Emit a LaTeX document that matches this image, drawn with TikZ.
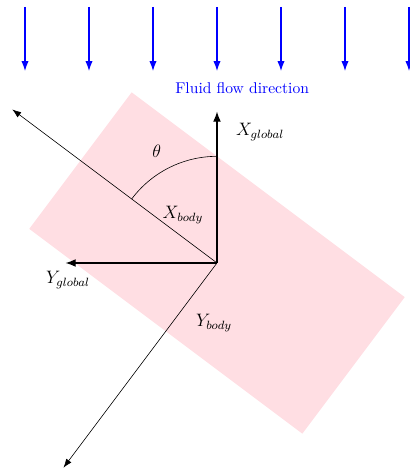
\documentclass[tikz,border=0pt]{standalone}
\usetikzlibrary{arrows.meta}
\definecolor{bodypink}{RGB}{255,222,227}
\begin{document}
\begin{tikzpicture}[
  flow/.style={blue, thick, -{Latex[length=6.5pt,width=4.8pt]}},
  gaxis/.style={thick, -{Latex[length=6.8pt,width=5.2pt]}},
  baxis/.style={-{Latex[length=6pt,width=4.2pt]}},
  lbl/.style={inner sep=1pt, font=\large}
]
\useasboundingbox (-5.086,-4.805) rectangle (4.523,6.164);
% body
\fill[bodypink, rotate=-36.87] (-4,-2) rectangle (4,2);
% flow arrows
\foreach \i/\x in {1/-4.5,2/-3,3/-1.5,4/0,5/1.5,6/3,7/4.5} {
  \coordinate (ft\i) at (\x,6);
  \coordinate (fb\i) at (\x,4.5);
  \draw[flow] (ft\i) -- (fb\i);
}
\node[blue, inner sep=1pt, font=\fontsize{10.4}{12}\selectfont] (flowlbl) at (0.59,4.1) {Fluid flow direction};
% axes
\coordinate (O) at (0,0);
\coordinate (XG) at (0,3.55);
\coordinate (YG) at (-3.55,0);
\coordinate (XB) at (143.13:6);
\coordinate (YB) at (233.13:6);
\draw[gaxis] (O) -- (XG);
\draw[gaxis] (O) -- (YG);
\draw[baxis] (O) -- (XB);
\draw[baxis] (O) -- (YB);
% angle
\coordinate (A0) at (90:2.5);
\draw (A0) arc[start angle=90, end angle=143.13, radius=2.5];
% labels
\node[lbl] (th) at (-1.41,2.62) {$\theta$};
\node[lbl] (xb) at (-0.80,1.12) {$X_{body}$};
\node[lbl] (xg) at (1.01,3.07) {$X_{global}$};
\node[lbl] (yg) at (-3.49,-0.40) {$Y_{global}$};
\node[lbl] (yb) at (-0.07,-1.41) {$Y_{body}$};
\end{tikzpicture}
\end{document}
